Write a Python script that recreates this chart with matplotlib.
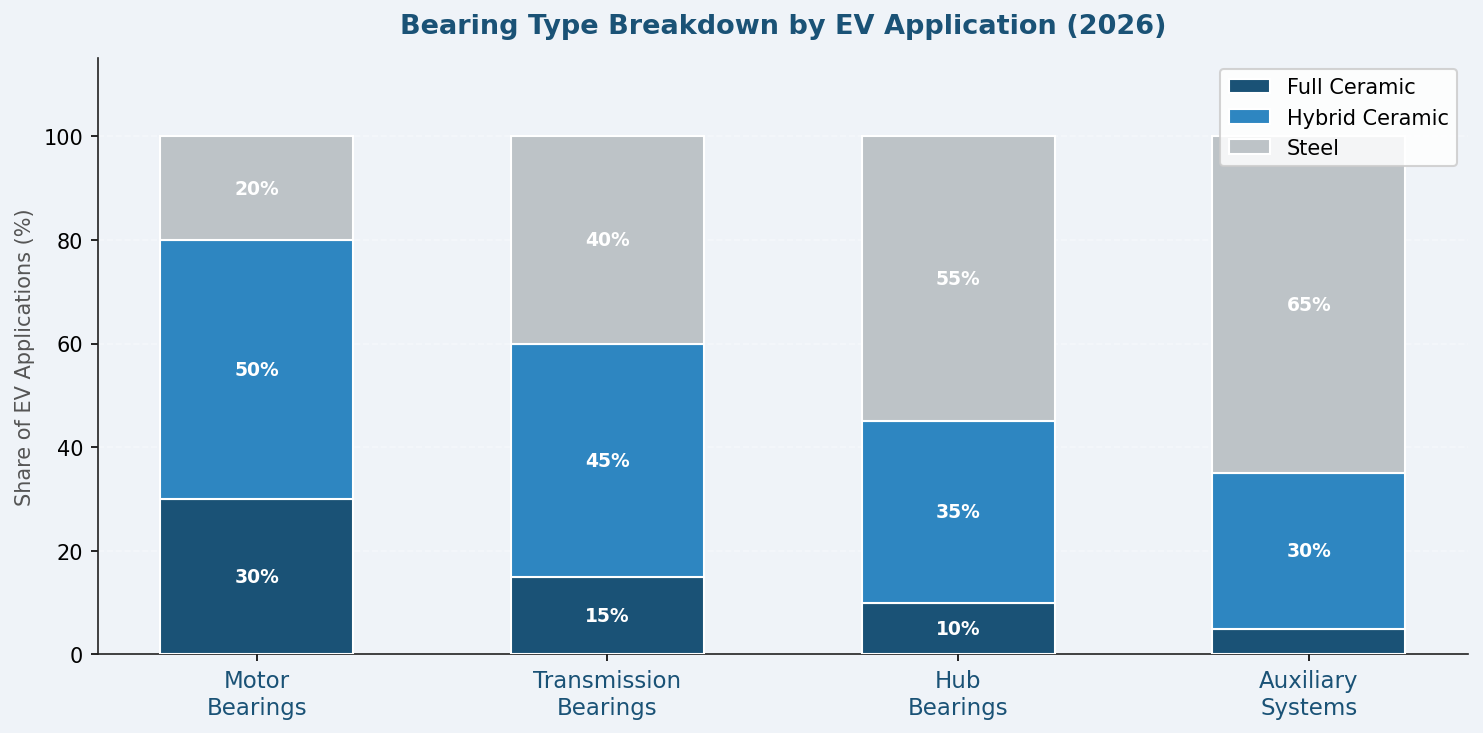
import numpy as np
import matplotlib
matplotlib.use("Agg")
import matplotlib.pyplot as plt

categories = ["Motor\nBearings", "Transmission\nBearings", "Hub\nBearings", "Auxiliary\nSystems"]
full_ceramic = [30, 15, 10, 5]
hybrid_ceramic = [50, 45, 35, 30]
steel = [20, 40, 55, 65]

series = [
    ("Full Ceramic", full_ceramic, "#1a5276"),
    ("Hybrid Ceramic", hybrid_ceramic, "#2e86c1"),
    ("Steel", steel, "#bdc3c7"),
]

bg = "#eff3f8"
fig, ax = plt.subplots(figsize=(9.893, 4.893), dpi=150)
fig.patch.set_facecolor(bg)
ax.set_facecolor(bg)

x = np.arange(len(categories))
bottom = np.zeros(len(categories))
for name, vals, color in series:
    vals = np.array(vals, dtype=float)
    bars = ax.bar(x, vals, 0.55, bottom=bottom, color=color, edgecolor="white",
                  linewidth=1, label=name, zorder=3)
    # skip labels on very thin segments
    for b, v, btm in zip(bars, vals, bottom):
        if v >= 8:
            ax.text(b.get_x() + b.get_width() / 2, btm + v / 2, f"{int(v)}%",
                    ha="center", va="center", color="white", fontsize=9,
                    fontweight="bold", zorder=4)
    bottom += vals

ax.set_ylim(0, 115)
ax.set_xticks(x)
ax.set_xticklabels(categories, fontsize=11, color="#1a5276")
ax.tick_params(axis="y", labelsize=10)
ax.set_ylabel("Share of EV Applications (%)", fontsize=10, color="#555555")
ax.set_title("Bearing Type Breakdown by EV Application (2026)", fontsize=13,
             fontweight="bold", color="#1a5276", pad=12)
ax.yaxis.grid(True, linestyle="--", color="white", alpha=0.35, linewidth=0.8, zorder=0)
ax.spines["top"].set_visible(False)
ax.spines["right"].set_visible(False)
ax.spines["left"].set_color("#222222")
ax.spines["bottom"].set_color("#222222")

leg = ax.legend(loc="upper right", fontsize=10, framealpha=0.85, facecolor="white",
                edgecolor="#cccccc")
leg.set_zorder(5)

plt.subplots_adjust(left=0.066, right=0.989, top=0.919, bottom=0.107)
plt.savefig("out.png", dpi=150, facecolor=bg)
